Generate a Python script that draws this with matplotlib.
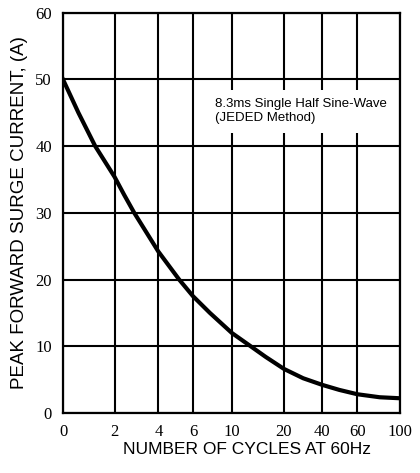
import numpy as np
import matplotlib
matplotlib.use('Agg')
import matplotlib.pyplot as plt

# points
cycles = [0, 0.6, 1.25, 2, 2.44, 2.9, 4, 5.2, 6, 7.74, 10, 13.8, 16.5, 20,
          30, 40, 49.7, 60, 81, 100]
current = [50, 45, 40, 35.4, 32.7, 30, 24.2, 20, 17.5, 15.0, 12.0, 9.9, 8.4, 6.6,
           5.2, 4.2, 3.45, 2.8, 2.35, 2.2]

x_ticks = [0, 2, 4, 6, 10, 20, 40, 60, 100]
y_ticks = [0, 10, 20, 30, 40, 50, 60]

# irregular spacing of the printed x axis (fraction of axis width)
tick_frac = [0.0, 0.153, 0.283, 0.386, 0.501, 0.656, 0.770, 0.874, 1.0]


def fwd(v):
    return np.interp(v, x_ticks, tick_frac)


def inv(f):
    return np.interp(f, tick_frac, x_ticks)


fig = plt.figure(figsize=(4.2, 4.73), dpi=100)
ax = fig.add_axes([0.150, 0.127, 0.802, 0.846])
ax.set_xscale('function', functions=(fwd, inv))
ax.set_xlim(0, 100)
ax.set_ylim(0, 60)

ax.set_xticks(x_ticks)
ax.set_xticklabels([str(t) for t in x_ticks])
ax.set_yticks(y_ticks)
ax.minorticks_off()
ax.tick_params(length=0, pad=8, labelsize=12)
for lab in ax.get_xticklabels() + ax.get_yticklabels():
    lab.set_family('Liberation Serif')

ax.grid(True, color='black', linewidth=1.5)
for s in ax.spines.values():
    s.set_linewidth(1.6)

ax.plot(cycles, current, color='black', linewidth=3, solid_joinstyle='round', zorder=3)

ax.text(8.3, 47.2, '8.3ms Single Half Sine-Wave\n(JEDED Method)', fontsize=9.5,
        family='Liberation Sans', va='top', ha='left', linespacing=1.25,
        bbox=dict(facecolor='white', edgecolor='none', pad=6), zorder=4)

ax.set_xlabel('NUMBER OF CYCLES AT 60Hz', family='Liberation Sans', fontsize=12.5, labelpad=2)
ax.xaxis.set_label_coords(0.545, -0.072)
ax.set_ylabel('PEAK FORWARD SURGE CURRENT, (A)', family='Liberation Sans', fontsize=13.5, labelpad=5)

plt.savefig('out.png', dpi=100)
